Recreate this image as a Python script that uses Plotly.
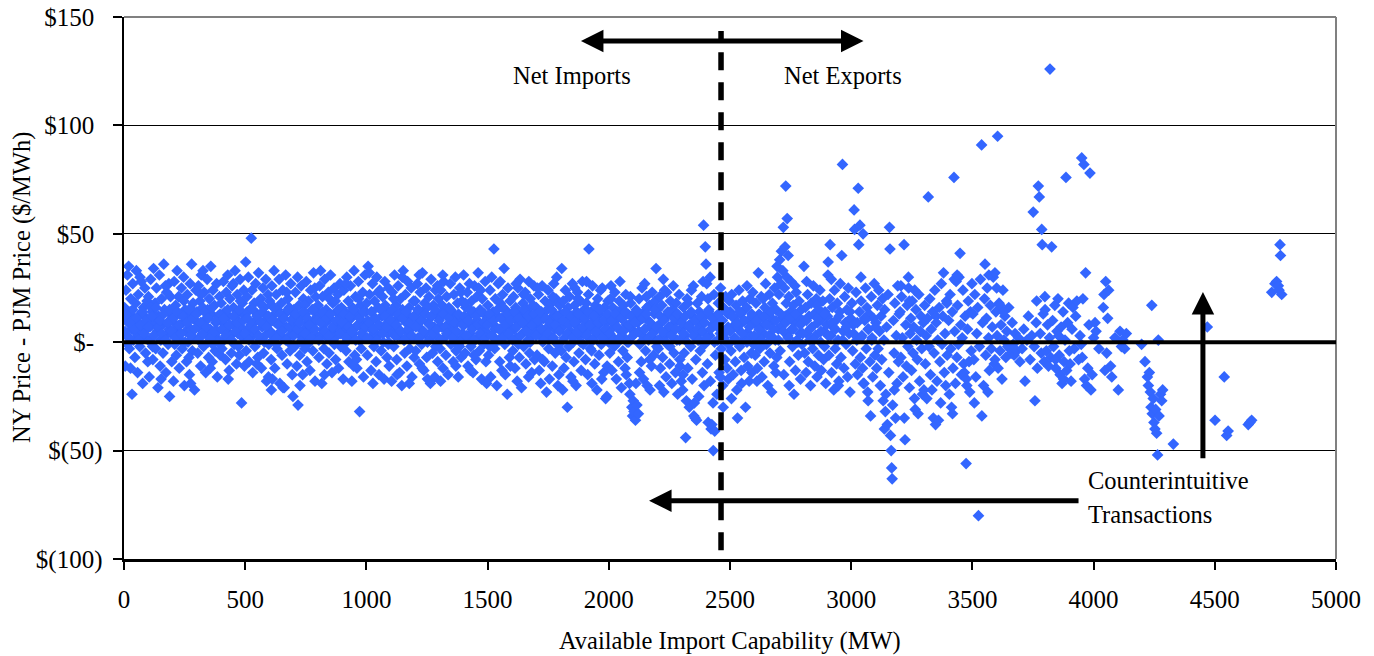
import plotly.graph_objects as go

# ---------------- data (Available import capability MW, NY-PJM price $/MWh) ----------------
band_0_500 = [
(2,16),(5,-11),(8,24),(11,3),(14,31),(17,9),(19,35),(22,-3),(25,14),(28,20),(31,6),(33,-24),(36,27),(39,1),(42,11),(45,-7),(48,18),(51,33),(53,4),(56,-14),(59,22),(62,8),(65,-2),(68,13),(71,28),(74,5),(77,-19),(80,16),(83,2),(86,25),(89,-5),(92,10),(95,19),(98,-9),(7,12),(27,-12),(47,7),(66,30),(85,12),(15,-1),
(101,21),(104,-16),(107,7),(110,29),(113,2),(116,14),(119,-8),(122,34),(125,10),(128,18),(131,-3),(134,25),(137,5),(140,-21),(143,12),(146,31),(149,-11),(152,1),(155,20),(158,8),(161,-5),(164,36),(167,15),(170,3),(173,-14),(176,23),(179,9),(182,-1),(185,27),(188,-25),(191,13),(194,4),(197,-9),(112,16),(132,9),(153,-17),(171,26),(192,21),(118,-2),(186,6),
(201,11),(204,-18),(207,28),(210,3),(213,17),(216,-6),(219,33),(222,7),(225,21),(228,-12),(231,13),(234,1),(237,25),(240,-3),(243,9),(246,30),(249,-20),(252,15),(255,5),(258,-9),(261,22),(264,0),(267,12),(270,-15),(273,27),(276,6),(279,36),(282,-4),(285,18),(288,2),(291,-22),(294,10),(297,24),(209,-1),(229,4),(247,19),(268,-7),(289,14),(215,8),(275,-19),
(301,14),(304,-5),(307,26),(310,2),(313,19),(316,-11),(319,31),(322,8),(325,16),(328,-2),(331,23),(334,4),(337,-14),(340,11),(343,29),(346,0),(349,-7),(352,20),(355,6),(358,35),(361,13),(364,-9),(367,24),(370,3),(373,17),(376,-4),(379,9),(382,27),(385,-16),(388,12),(391,1),(394,21),(397,-6),(306,7),(326,33),(345,15),(366,-1),(386,5),(356,-12),(318,22),
(401,18),(404,-3),(407,9),(410,28),(413,1),(416,14),(419,-8),(422,23),(425,5),(428,31),(431,12),(434,-13),(437,20),(440,3),(443,-5),(446,26),(449,8),(452,16),(455,-1),(458,33),(461,11),(464,-10),(467,22),(470,4),(473,14),(476,-6),(479,29),(482,7),(485,-28),(488,18),(491,2),(494,24),(497,-11),(409,10),(430,-17),(451,27),(472,-2),(493,13),(415,6),(480,19),
]
band_500_1000 = [
(502,37),(525,48),(501,12),(504,-4),(507,21),(510,6),(513,30),(516,-9),(519,15),(522,2),(528,24),(531,-14),(534,9),(537,18),(540,-2),(543,27),(546,4),(549,13),(552,-7),(555,32),(558,10),(561,1),(564,20),(567,-12),(570,7),(573,25),(576,-5),(579,16),(582,3),(585,29),(588,-18),(591,11),(594,22),(597,-1),(508,14),(529,5),(548,-10),(569,17),(590,8),(596,-16),
(601,19),(604,5),(607,-8),(610,26),(613,12),(616,1),(619,33),(622,-12),(625,9),(628,22),(631,-3),(634,15),(637,4),(640,29),(643,-19),(646,10),(649,18),(652,-6),(655,24),(658,2),(661,-21),(664,13),(667,31),(670,7),(673,-10),(676,20),(679,0),(682,16),(685,-4),(688,27),(691,6),(694,-15),(697,11),(608,17),(629,-1),(650,8),(671,23),(692,14),(612,-17),(683,3),(608,-22),(656,-21),(697,-25),
(701,15),(704,-2),(707,23),(710,8),(713,-11),(716,30),(719,4),(722,17),(725,-6),(728,11),(731,26),(734,1),(737,-15),(740,20),(743,6),(746,-3),(749,13),(752,28),(755,-9),(758,9),(761,19),(764,2),(767,-13),(770,24),(773,7),(776,15),(779,-4),(782,32),(785,10),(788,-18),(791,21),(794,3),(797,12),(705,9),(726,-20),(745,17),(766,5),(787,25),(718,-29),(757,-1),
(801,17),(804,-7),(807,26),(810,3),(813,12),(816,-19),(819,21),(822,6),(825,-3),(828,29),(831,9),(834,15),(837,-10),(840,2),(843,23),(846,-5),(849,11),(852,31),(855,5),(858,-14),(861,18),(864,0),(867,25),(870,8),(873,-8),(876,14),(879,3),(882,22),(885,-12),(888,10),(891,27),(894,-2),(897,16),(806,13),(827,-15),(848,20),(868,-1),(889,6),(811,33),(872,19),
(901,12),(904,-17),(907,24),(910,5),(913,14),(916,-4),(919,30),(922,8),(925,19),(928,-9),(931,2),(934,26),(937,11),(940,-18),(943,16),(946,4),(949,33),(952,-6),(955,21),(958,7),(961,-12),(964,13),(967,28),(970,1),(972,-32),(976,17),(979,-3),(982,9),(985,23),(988,-16),(991,6),(994,31),(997,14),(908,-1),(926,10),(947,-11),(968,20),(989,3),(915,27),(959,-8),
]
band_1000_1500 = [
(1001,18),(1004,-6),(1007,35),(1010,9),(1013,22),(1016,2),(1019,-13),(1022,14),(1025,27),(1028,5),(1031,-2),(1034,19),(1037,11),(1040,-9),(1043,30),(1046,3),(1049,16),(1052,-15),(1055,24),(1058,7),(1061,-4),(1064,12),(1067,21),(1070,0),(1073,-17),(1076,28),(1079,8),(1082,15),(1085,-7),(1088,4),(1091,25),(1094,-11),(1097,13),(1006,10),(1027,-19),(1048,23),(1069,6),(1090,-1),(1012,32),(1078,17),
(1101,14),(1104,-18),(1107,23),(1110,6),(1113,-2),(1116,31),(1119,10),(1122,17),(1125,-8),(1128,3),(1131,26),(1134,12),(1137,-14),(1140,20),(1143,5),(1146,-20),(1149,15),(1152,33),(1155,1),(1158,-5),(1161,22),(1164,9),(1167,-11),(1170,28),(1173,4),(1176,16),(1179,-3),(1182,11),(1185,25),(1188,-16),(1191,7),(1194,19),(1197,-7),(1106,8),(1127,-15),(1148,30),(1168,13),(1189,2),(1112,20),(1177,-19),
(1201,19),(1204,-4),(1207,11),(1210,27),(1213,2),(1216,15),(1219,-10),(1222,23),(1225,6),(1228,-1),(1231,32),(1234,13),(1237,-13),(1240,18),(1243,4),(1246,25),(1249,-7),(1252,-17),(1255,9),(1258,21),(1261,1),(1264,-19),(1267,29),(1270,12),(1273,-5),(1276,17),(1279,7),(1282,-16),(1285,24),(1288,3),(1291,14),(1294,-9),(1297,20),(1209,8),(1230,-12),(1251,16),(1272,5),(1293,26),(1218,31),(1286,-2),
(1301,11),(1304,-3),(1307,24),(1310,7),(1313,17),(1316,-12),(1319,28),(1322,2),(1325,13),(1328,-6),(1331,21),(1334,5),(1337,-15),(1340,16),(1343,9),(1346,27),(1349,-1),(1352,14),(1355,3),(1358,-9),(1361,22),(1364,8),(1367,30),(1370,-4),(1373,12),(1376,18),(1379,-16),(1382,1),(1385,25),(1388,10),(1391,-7),(1394,19),(1397,4),(1306,-18),(1327,15),(1348,6),(1369,-11),(1390,23),(1315,31),(1384,-2),
(1401,31),(1404,8),(1407,-5),(1410,16),(1413,2),(1416,23),(1419,-11),(1422,12),(1425,27),(1428,4),(1431,-2),(1434,19),(1437,7),(1440,-14),(1443,14),(1446,26),(1449,1),(1452,-8),(1455,21),(1458,10),(1461,32),(1463,25),(1466,-4),(1469,15),(1472,3),(1475,-17),(1478,20),(1481,6),(1484,-1),(1487,13),(1490,28),(1493,-9),(1496,-19),(1499,11),(1408,18),(1429,-13),(1450,9),(1471,24),(1492,5),(1444,-6),
]
band_1500_2000 = [
(1501,17),(1504,-6),(1507,9),(1510,24),(1513,-16),(1517,30),(1520,3),(1523,14),(1526,43),(1529,-3),(1532,20),(1535,7),(1538,-20),(1541,12),(1544,27),(1547,1),(1550,-9),(1553,18),(1556,5),(1559,-13),(1562,22),(1565,10),(1568,34),(1571,-1),(1574,15),(1577,4),(1581,-24),(1584,25),(1587,8),(1590,-7),(1593,19),(1596,2),(1599,13),(1509,-2),(1530,6),(1552,28),(1573,-15),(1594,-11),(1515,11),(1560,16),
(1601,12),(1604,-4),(1607,21),(1610,6),(1613,-12),(1616,16),(1619,2),(1622,-18),(1625,25),(1628,9),(1631,-7),(1634,29),(1637,13),(1640,-21),(1643,4),(1646,18),(1649,-2),(1652,11),(1655,23),(1658,-10),(1661,7),(1664,15),(1667,1),(1670,28),(1673,-5),(1676,20),(1679,10),(1682,-14),(1685,3),(1688,17),(1691,26),(1694,-8),(1697,8),(1606,14),(1627,-1),(1648,22),(1669,-16),(1690,5),(1618,27),(1680,12),
(1701,16),(1704,-6),(1707,9),(1710,22),(1713,-13),(1716,3),(1719,-19),(1722,14),(1725,26),(1728,0),(1731,11),(1734,-9),(1737,19),(1740,5),(1743,-23),(1746,15),(1749,24),(1752,-3),(1755,-17),(1758,8),(1761,18),(1764,2),(1767,-11),(1770,12),(1773,27),(1776,6),(1779,-5),(1782,20),(1785,30),(1788,-1),(1791,10),(1794,-15),(1797,17),(1706,25),(1727,-8),(1748,7),(1769,21),(1790,-20),(1712,4),(1777,13),
(1801,13),(1804,-4),(1806,34),(1809,7),(1812,19),(1815,-12),(1818,2),(1821,24),(1824,-7),(1827,10),(1829,-30),(1832,16),(1835,-2),(1838,21),(1841,5),(1844,-16),(1847,12),(1850,27),(1853,0),(1856,-9),(1859,17),(1862,8),(1865,-20),(1868,14),(1871,23),(1874,3),(1877,-5),(1880,11),(1883,19),(1886,-13),(1889,6),(1891,28),(1895,-1),(1898,15),(1810,-22),(1831,9),(1852,-18),(1873,20),(1894,4),(1860,25),
(1901,10),(1904,-8),(1907,18),(1910,3),(1913,-15),(1916,22),(1918,43),(1921,6),(1924,-3),(1927,14),(1930,-19),(1933,26),(1936,1),(1939,11),(1942,-10),(1945,17),(1948,4),(1951,-22),(1954,20),(1957,8),(1960,-6),(1963,13),(1966,24),(1969,-1),(1973,25),(1976,5),(1979,-14),(1982,16),(1985,2),(1987,-26),(1990,9),(1993,-11),(1996,19),(1999,0),(1908,28),(1929,-4),(1950,12),(1971,-17),(1992,-25),(1943,7),
]
band_2000_2500 = [
(2001,12),(2004,-5),(2007,20),(2010,3),(2013,-13),(2016,16),(2019,7),(2022,-2),(2025,23),(2028,10),(2031,-17),(2034,14),(2037,1),(2040,-9),(2043,19),(2046,28),(2049,5),(2052,-21),(2055,11),(2058,-4),(2061,17),(2064,2),(2067,-12),(2070,22),(2073,8),(2076,-7),(2079,13),(2082,0),(2085,-19),(2087,-24),(2090,18),(2093,6),(2095,-30),(2098,-34),(2099,9),(2009,26),(2030,-1),(2051,15),(2072,-15),(2089,21),
(2101,-27),(2104,-32),(2107,4),(2110,-36),(2113,15),(2116,-29),(2119,9),(2122,-33),(2125,20),(2128,-1),(2131,12),(2134,-9),(2137,25),(2140,3),(2143,-17),(2146,14),(2149,6),(2152,-4),(2155,21),(2158,-20),(2161,10),(2164,1),(2167,17),(2170,-22),(2173,7),(2176,-11),(2179,23),(2182,2),(2185,-6),(2188,13),(2191,19),(2195,34),(2198,-2),(2106,11),(2127,-14),(2148,27),(2169,-8),(2190,5),(2112,-19),(2157,16),
(2201,15),(2204,-3),(2207,8),(2210,21),(2213,-12),(2216,2),(2219,17),(2222,-7),(2225,29),(2227,-23),(2230,11),(2233,5),(2236,-16),(2239,23),(2242,-1),(2245,13),(2248,7),(2251,-10),(2254,19),(2257,3),(2260,-19),(2263,15),(2266,26),(2269,-5),(2272,9),(2275,-14),(2278,18),(2281,1),(2284,-24),(2287,12),(2290,22),(2293,-8),(2296,6),(2299,-18),(2209,-20),(2230,24),(2252,-2),(2273,14),(2294,-11),(2240,4),
(2302,9),(2305,-22),(2308,16),(2311,-5),(2314,3),(2317,-44),(2320,-27),(2323,20),(2326,-12),(2329,7),(2332,-30),(2335,13),(2338,-2),(2341,24),(2344,-17),(2347,5),(2349,26),(2351,-34),(2354,11),(2356,-35),(2359,-8),(2362,-36),(2365,18),(2368,1),(2371,-25),(2374,14),(2377,-4),(2380,8),(2383,21),(2386,-14),(2389,28),(2391,54),(2393,-20),(2396,12),(2398,44),(2306,-15),(2327,18),(2353,-28),(2373,4),(2395,-1),
(2401,36),(2404,27),(2407,-10),(2410,-37),(2413,15),(2416,3),(2419,-18),(2422,-40),(2425,-38),(2428,8),(2431,-50),(2434,22),(2437,-41),(2440,-6),(2443,12),(2446,-24),(2449,1),(2452,18),(2455,-14),(2458,6),(2461,25),(2464,-3),(2467,10),(2470,-20),(2473,16),(2476,2),(2479,-8),(2482,21),(2485,5),(2488,-12),(2491,13),(2494,-1),(2497,19),(2409,20),(2430,-28),(2451,9),(2472,-30),(2493,-17),(2418,30),(2460,-16),
]
band_2500_3100 = [
(2501,14),(2504,-4),(2507,22),(2510,7),(2513,-15),(2516,11),(2519,2),(2522,-9),(2525,17),(2528,-22),(2531,-35),(2534,6),(2537,24),(2540,-2),(2543,13),(2546,-13),(2549,9),(2552,19),(2555,1),(2558,-7),(2561,15),(2564,-30),(2567,4),(2570,26),(2573,-11),(2576,10),(2579,-18),(2582,20),(2585,3),(2588,-5),(2591,12),(2594,23),(2597,-1),(2506,-26),(2527,8),(2548,-19),(2569,16),(2590,-14),
(2601,9),(2604,-6),(2607,18),(2610,2),(2613,-12),(2617,32),(2620,13),(2623,-3),(2626,7),(2629,21),(2632,-16),(2635,11),(2638,4),(2641,-9),(2644,16),(2647,27),(2650,-1),(2653,8),(2656,-20),(2659,14),(2662,22),(2665,-5),(2668,3),(2672,-23),(2675,18),(2678,10),(2681,-11),(2684,25),(2687,1),(2690,15),(2693,-7),(2696,30),(2699,6),(2611,-18),(2637,20),(2663,12),(2689,-14),(2694,35),
(2702,22),(2705,38),(2707,-4),(2710,27),(2712,42),(2715,11),(2718,33),(2720,53),(2722,-15),(2725,25),(2727,44),(2730,72),(2732,18),(2734,30),(2736,57),(2738,3),(2740,40),(2743,21),(2746,-9),(2749,14),(2752,28),(2755,6),(2758,-2),(2761,17),(2764,-24),(2767,9),(2770,-13),(2773,23),(2776,1),(2779,12),(2782,-6),(2785,19),(2788,4),(2791,-17),(2794,15),(2797,-1),(2709,7),(2728,12),(2744,-20),(2768,26),
(2801,10),(2805,35),(2808,-5),(2811,16),(2814,-14),(2817,4),(2820,22),(2823,-9),(2826,12),(2829,1),(2832,-20),(2835,18),(2838,7),(2841,-3),(2844,26),(2847,13),(2850,-11),(2853,3),(2856,20),(2859,-16),(2862,9),(2865,-6),(2868,15),(2871,24),(2874,0),(2877,-13),(2880,11),(2883,19),(2886,-8),(2889,5),(2892,14),(2895,-19),(2898,8),(2816,28),(2858,17),(2890,-2),
(2902,12),(2904,31),(2905,37),(2908,-6),(2911,20),(2913,45),(2916,3),(2919,-14),(2922,16),(2925,7),(2928,-22),(2931,24),(2934,-3),(2937,10),(2940,-10),(2943,18),(2946,1),(2949,-18),(2952,14),(2955,27),(2958,-7),(2961,40),(2964,82),(2967,5),(2970,-12),(2973,21),(2976,9),(2979,-1),(2982,15),(2985,-16),(2988,25),(2991,4),(2995,-23),(2998,11),(2918,29),(2947,-20),
(3003,18),(3006,-4),(3009,8),(3012,61),(3014,52),(3017,-10),(3020,23),(3023,1),(3026,-15),(3029,71),(3031,45),(3034,14),(3036,54),(3038,-7),(3041,19),(3044,3),(3047,-12),(3049,50),(3050,-19),(3053,-19),(3056,10),(3059,25),(3062,-3),(3065,16),(3068,-23),(3071,6),(3074,13),(3077,-9),(3080,-34),(3083,21),(3086,2),(3089,-16),(3092,11),(3095,27),(3098,-6),(3040,30),(3070,-27),
]
spread_3100_3700 = [
(3102,9),(3105,-12),(3108,17),(3111,-3),(3114,24),(3117,5),(3120,-20),(3123,12),(3126,-8),(3129,20),(3132,-27),(3135,1),(3138,15),(3141,-32),(3143,-24),(3146,7),(3149,-38),(3152,22),(3155,-14),(3158,53),(3160,43),(3162,-43),(3165,-50),(3167,-58),(3169,-63),(3171,-29),(3174,10),(3177,-5),(3180,18),(3183,-35),(3186,3),(3189,-19),(3192,26),(3195,-9),(3198,13),(3137,-40),(3178,-22),
(3202,14),(3205,-7),(3208,21),(3211,2),(3214,-16),(3218,45),(3219,-35),(3222,-45),(3225,8),(3228,-11),(3231,17),(3234,-2),(3237,25),(3240,-21),(3243,4),(3246,11),(3249,-13),(3252,19),(3255,-5),(3258,7),(3261,-26),(3264,-31),(3267,15),(3270,1),(3273,-8),(3276,-33),(3279,22),(3282,-18),(3285,5),(3288,12),(3291,-3),(3294,-24),(3297,9),(3300,-22),(3236,30),(3262,24),(3205,26),(3240,19),
(3303,17),(3306,-10),(3309,3),(3312,-26),(3315,11),(3318,67),(3321,-2),(3324,20),(3327,-15),(3330,6),(3333,-22),(3336,14),(3339,-35),(3342,-5),(3345,24),(3348,-38),(3351,9),(3354,-18),(3357,1),(3360,-36),(3363,16),(3366,-9),(3369,-28),(3372,27),(3375,-1),(3378,12),(3381,32),(3384,-14),(3387,4),(3390,-20),(3393,19),(3396,-6),(3350,12),(3395,18),
(3402,10),(3405,-24),(3408,22),(3411,-3),(3414,-30),(3417,14),(3420,-12),(3424,76),(3427,5),(3430,-19),(3433,28),(3436,-7),(3439,17),(3442,-1),(3445,30),(3449,41),(3452,8),(3455,-15),(3458,2),(3461,24),(3464,-10),(3467,-14),(3470,12),(3474,-56),(3477,-20),(3480,6),(3483,19),(3486,-9),(3489,-23),(3492,14),(3495,-4),(3498,27),(3418,-33),(3475,-17),(3425,29),(3437,31),
(3502,13),(3506,-8),(3510,22),(3514,-16),(3518,4),(3522,16),(3525,-80),(3529,-2),(3533,29),(3538,91),(3539,-34),(3542,9),(3546,-20),(3550,20),(3552,36),(3555,-6),(3558,11),(3561,25),(3564,-23),(3567,2),(3570,-13),(3574,17),(3578,-3),(3582,7),(3586,30),(3590,-10),(3593,-8),(3597,14),(3604,95),(3508,-28),(3568,31),(3593,32),(3600,25),
(3602,3),(3606,-12),(3610,18),(3614,-4),(3618,8),(3622,-17),(3626,24),(3630,1),(3634,12),(3638,-7),(3642,5),(3646,-2),(3650,16),(3655,-3),(3660,-5),(3664,9),(3668,-1),(3672,-6),(3676,4),(3683,-4),(3690,2),(3696,-9),(3614,17),(3627,14),
]
spread_3700_4800 = [
(3705,-3),(3712,6),(3717,-18),(3725,1),(3731,12),(3738,-8),(3745,3),(3751,60),(3755,-2),(3758,-27),(3763,9),(3768,-12),(3772,72),(3776,67),(3780,4),(3784,-5),(3786,52),(3788,45),(3792,13),(3796,-9),(3799,21),(3800,15),(3765,19),
(3805,-4),(3810,8),(3814,-11),(3818,2),(3820,126),(3823,-7),(3827,44),(3831,10),(3835,-2),(3840,17),(3844,-12),(3849,5),(3853,20),(3858,-6),(3862,-15),(3866,7),(3870,-19),(3874,14),(3878,-9),(3882,1),(3886,76),(3889,-13),(3893,9),(3897,18),(3900,-4),(3843,-8),(3876,-17),(3856,3),
(3903,-10),(3907,-18),(3911,6),(3915,16),(3920,-3),(3926,12),(3931,19),(3938,-8),(3944,3),(3949,-1),(3951,85),(3953,-7),(3956,20),(3960,82),(3963,-17),(3967,32),(3971,-20),(3976,-12),(3981,8),(3985,78),(3989,-22),(3994,-15),(4000,2),
(4006,9),(4010,5),(4022,-3),(4040,16),(4043,22),(4047,-13),(4050,28),(4054,-5),(4058,11),(4062,24),(4075,-16),(4070,-11),(4088,2),(4102,-22),
(4109,5),(4115,-2),(4121,1),(4128,-3),(4135,4),(4198,-1),(4212,-9),(4222,-16),(4226,-20),(4230,-14),(4234,-23),(4237,-30),(4240,17),(4242,-33),(4246,-26),(4249,-37),(4253,-40),(4256,-31),(4260,-42),(4264,-52),(4267,1),(4270,-34),(4276,-24),(4281,-27),(4285,-22),(4329,-47),
(4469,7),(4501,-36),(4539,-16),(4549,-43),(4555,-41),(4638,-38),(4645,-37),(4652,-36),(4735,23),(4748,27),(4755,28),(4762,26),(4769,45),(4771,40),(4776,22),(4765,24),
]
core_0_1000 = [
(4,5),(12,13),(20,2),(28,9),(36,15),(44,6),(52,11),(60,1),(68,8),(76,14),(84,4),(92,10),(100,7),(108,0),(116,12),(124,3),(132,16),(140,7),(148,10),(156,4),(164,13),(172,1),(180,9),(188,15),(196,5),(204,11),(212,2),(220,14),(228,8),(236,4),(244,12),(252,0),(260,9),(268,15),(276,3),(284,11),(292,6),(300,13),(308,1),(316,9),(324,4),(332,14),(340,7),(348,11),(356,2),(364,16),(372,5),(380,10),(388,0),(396,13),(404,6),(412,11),(420,3),(428,15),(436,8),(444,1),(452,12),(460,5),(468,9),(476,15),(484,3),(492,10),
(500,4),(508,11),(516,1),(524,8),(532,15),(540,6),(548,12),(556,3),(564,9),(572,14),(580,0),(588,7),(596,12),(604,4),(612,10),(620,16),(628,2),(636,8),(644,13),(652,5),(660,11),(668,1),(676,15),(684,7),(692,10),(700,3),(708,13),(716,6),(724,9),(732,0),(740,14),(748,4),(756,11),(764,8),(772,2),(780,15),(788,6),(796,10),(804,1),(812,9),(820,14),(828,5),(836,11),(844,3),(852,13),(860,7),(868,0),(876,10),(884,15),(892,4),(900,9),(908,13),(916,2),(924,7),(932,12),(940,5),(948,15),(956,1),(964,8),(972,11),(980,4),(988,14),(996,7),
]
core_1000_2000 = [
(1004,2),(1012,9),(1020,14),(1028,6),(1036,11),(1044,1),(1052,8),(1060,15),(1068,4),(1076,12),(1084,7),(1092,0),(1100,10),(1108,15),(1116,3),(1124,8),(1132,13),(1140,5),(1148,11),(1156,1),(1164,14),(1172,6),(1180,9),(1188,3),(1196,12),(1204,7),(1212,15),(1220,2),(1228,10),(1236,5),(1244,13),(1252,0),(1260,8),(1268,12),(1276,4),(1284,15),(1292,6),(1300,10),(1308,1),(1316,13),(1324,7),(1332,4),(1340,11),(1348,15),(1356,2),(1364,9),(1372,5),(1380,13),(1388,0),(1396,8),(1404,12),(1412,3),(1420,10),(1428,15),(1436,6),(1444,1),(1452,12),(1460,8),(1468,4),(1476,14),(1484,9),(1492,2),
(1500,8),(1508,13),(1516,3),(1524,10),(1532,0),(1540,15),(1548,6),(1556,11),(1564,2),(1572,8),(1580,13),(1588,4),(1596,10),(1604,1),(1612,14),(1620,7),(1628,11),(1636,3),(1644,9),(1652,15),(1660,5),(1668,12),(1676,0),(1684,8),(1692,13),(1700,3),(1708,10),(1716,14),(1724,6),(1732,1),(1740,11),(1748,4),(1756,9),(1764,15),(1772,2),(1780,8),(1788,12),(1796,5),(1804,0),(1812,10),(1820,14),(1828,4),(1836,8),(1844,12),(1852,2),(1860,9),(1868,5),(1876,13),(1884,0),(1892,7),(1900,11),(1908,3),(1916,14),(1924,8),(1932,1),(1940,12),(1948,5),(1956,9),(1964,15),(1972,2),(1980,10),(1988,6),(1996,13),
]
core_2000_3100 = [
(2004,4),(2012,10),(2020,1),(2028,13),(2036,7),(2044,2),(2052,11),(2060,5),(2068,14),(2076,0),(2084,8),(2092,12),(2100,3),(2108,9),(2116,14),(2124,5),(2132,0),(2140,11),(2148,6),(2156,13),(2164,2),(2172,9),(2180,4),(2188,15),(2196,7),(2204,1),(2212,12),(2220,5),(2228,10),(2236,0),(2244,14),(2252,7),(2260,3),(2268,11),(2276,6),(2284,13),(2292,1),(2300,9),(2308,4),(2316,12),(2324,0),(2332,8),(2340,14),(2348,3),(2356,10),(2364,6),(2372,1),(2380,12),(2388,5),(2396,9),(2404,2),(2412,14),(2420,6),(2428,11),(2436,0),(2444,8),(2452,13),(2460,4),(2468,10),(2476,1),(2484,14),(2492,7),
(2500,5),(2510,12),(2520,1),(2530,9),(2540,14),(2550,4),(2560,10),(2570,0),(2580,7),(2590,13),(2600,3),(2610,10),(2620,6),(2630,1),(2640,12),(2650,8),(2660,3),(2670,14),(2680,6),(2690,10),(2700,1),(2710,13),(2720,5),(2730,9),(2740,2),(2750,11),(2760,6),(2770,13),(2780,0),(2790,8),(2800,4),(2815,10),(2830,6),(2845,1),(2860,11),(2875,5),(2890,13),(2905,3),(2920,9),(2935,6),(2950,12),(2965,1),(2980,7),(2995,14),(3010,4),(3025,9),(3040,2),(3055,11),(3070,6),(3085,1),(3100,7),
]

x_tick_vals = [0, 500, 1000, 1500, 2000, 2500, 3000, 3500, 4000, 4500, 5000]
x_tick_text = ["0", "500", "1000", "1500", "2000", "2500", "3000", "3500", "4000", "4500", "5000"]
y_tick_vals = [-100, -50, 0, 50, 100, 150]
HID = "<span style='color:white'>)</span>"
y_tick_text = ["$(100)", "$(50)", "$-" + HID, "$50" + HID, "$100" + HID, "$150" + HID]

# annotation anchors (data units)
split_mw = 2463
arrow_y = 138.9
arrow_left, arrow_right = 1885, 3057
low_arrow_y = -73.1
low_arrow_tip, low_arrow_tail = 2166, 3944
up_arrow_x = 4451
up_arrow_tip, up_arrow_tail = 23.1, -54.2

# ---------------- figure ----------------
points = (band_0_500 + band_500_1000 + band_1000_1500 + band_1500_2000 + band_2000_2500
          + band_2500_3100 + spread_3100_3700 + spread_3700_4800
          + core_0_1000 + core_1000_2000 + core_2000_3100)
xs = [p[0] for p in points]
ys = [p[1] for p in points]

FONT = "Liberation Serif, Times New Roman, serif"
BLUE = "#3366FF"

fig = go.Figure()
fig.add_trace(go.Scatter(
    x=xs, y=ys, mode="markers",
    marker=dict(symbol="diamond", size=9, color=BLUE, line=dict(width=0)),
    showlegend=False, hoverinfo="skip",
))

fig.update_layout(
    width=1374, height=656, autosize=False,
    margin=dict(l=124, r=38, t=17, b=97, pad=0),
    paper_bgcolor="white", plot_bgcolor="white",
    font=dict(family=FONT, size=25, color="black"),
    showlegend=False,
)
fig.update_xaxes(
    range=[0, 5000], tickmode="array", tickvals=x_tick_vals, ticktext=x_tick_text,
    ticks="outside", ticklen=8, tickwidth=2, tickcolor="black",
    showline=True, linecolor="black", linewidth=2.5, automargin=False,
    showgrid=False, zeroline=False, ticklabelstandoff=8, ticklabeloverflow="allow",
    tickfont=dict(family=FONT, size=25, color="black"),
)
fig.update_yaxes(
    range=[-100, 150], tickmode="array", tickvals=y_tick_vals, ticktext=y_tick_text,
    ticks="outside", ticklen=9, tickwidth=2, tickcolor="black",
    showline=True, linecolor="black", linewidth=2.5, automargin=False,
    showgrid=True, gridcolor="black", gridwidth=1.2, zeroline=False,
    ticklabelstandoff=5, ticklabeloverflow="allow",
    tickfont=dict(family=FONT, size=25, color="black"),
)

# plot-area border (top / right, grey), zero line, dashed separator
fig.add_shape(type="line", xref="paper", yref="paper", x0=0, x1=1, y0=1, y1=1,
              line=dict(color="#808080", width=2), layer="above")
fig.add_shape(type="line", xref="paper", yref="paper", x0=1, x1=1, y0=0, y1=1,
              line=dict(color="#808080", width=2), layer="above")
fig.add_shape(type="line", xref="paper", yref="y", x0=0, x1=1, y0=0, y1=0,
              line=dict(color="black", width=4), layer="above")
fig.add_shape(type="line", xref="x", yref="y", x0=split_mw, x1=split_mw, y0=-96, y1=143.5,
              line=dict(color="black", width=5.5, dash="18px,12px"), layer="above")

# arrows
arrow_common = dict(showarrow=True, text="", arrowcolor="black", arrowwidth=5,
                    arrowsize=0.9, arrowhead=2, startarrowhead=2, startarrowsize=0.9,
                    axref="x", ayref="y", xref="x", yref="y", standoff=0, startstandoff=0)
fig.add_annotation(x=arrow_left, y=arrow_y, ax=arrow_right, ay=arrow_y,
                   arrowside="end+start", **arrow_common)
fig.add_annotation(x=low_arrow_tip, y=low_arrow_y, ax=low_arrow_tail, ay=low_arrow_y,
                   arrowside="end", **arrow_common)
fig.add_annotation(x=up_arrow_x, y=up_arrow_tip, ax=up_arrow_x, ay=up_arrow_tail,
                   arrowside="end", **arrow_common)

# labels
lab = dict(showarrow=False, xref="x", yref="y", font=dict(family=FONT, size=24.5, color="black"))
fig.add_annotation(x=1847, y=123.1, text="Net Imports", xanchor="center", yanchor="middle", **lab)
fig.add_annotation(x=2965, y=123.1, text="Net Exports", xanchor="center", yanchor="middle", **lab)
fig.add_annotation(x=3969, y=-63.8, text="Counterintuitive", xanchor="left", yanchor="middle", **lab)
fig.add_annotation(x=3969, y=-79.6, text="Transactions", xanchor="left", yanchor="middle", **lab)

# axis titles
fig.add_annotation(xref="paper", yref="paper", x=(22 - 124) / 1212, y=0.5,
                   text="NY Price - PJM Price ($/MWh)", textangle=-90, showarrow=False,
                   xanchor="center", yanchor="middle", font=dict(family=FONT, size=24.5, color="black"))
fig.add_annotation(xref="paper", yref="paper", x=(730 - 124) / 1212, y=(559 - 641) / 542,
                   text="Available Import Capability (MW)", showarrow=False,
                   xanchor="center", yanchor="middle", font=dict(family=FONT, size=24.5, color="black"))

# remove the default 8px page margin so the figure fills the window exactly; hide the mode bar
fig.write_html("out.html",
               config={"displayModeBar": False, "staticPlot": True},
               post_script="document.body.style.margin='0';document.body.style.overflow='hidden';")
